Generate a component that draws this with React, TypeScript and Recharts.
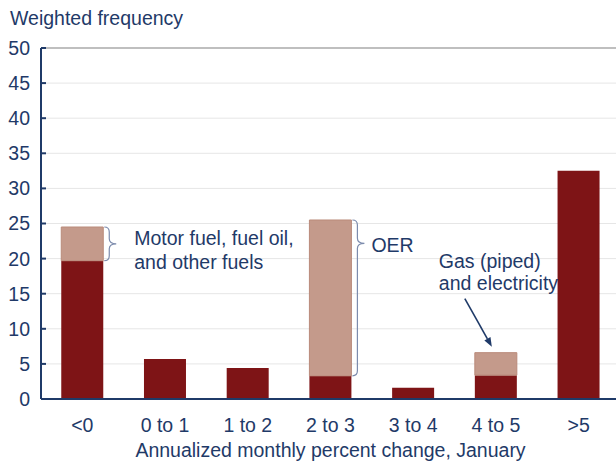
import { BarChart, Bar, XAxis, YAxis, CartesianGrid, ReferenceLine, LabelList } from "recharts";

const categories = ["<0", "0 to 1", "1 to 2", "2 to 3", "3 to 4", "4 to 5", ">5"];
const baseValues = [19.7, 5.7, 4.4, 3.3, 1.6, 3.4, 32.5];
const highlightValues = [4.8, 0, 0, 22.2, 0, 3.2, 0];
const yTicks = [0, 5, 10, 15, 20, 25, 30, 35, 40, 45, 50];
const boundaryTicks = [1, 2, 3, 4, 5, 6];

const braceNotes = [
    { category: "<0", lines: ["Motor fuel, fuel oil,", "and other fuels"], tip: 0.5, dx: 18, dy: 1.5 },
    { category: "2 to 3", lines: ["OER"], tip: 0.15, dx: 7, dy: 8.5 },
];
const arrowNotes = [{ category: "4 to 5", lines: ["Gas (piped)", "and electricity"] }];

const data = categories.map((name, i) => ({ name, base: baseValues[i], extra: highlightValues[i] }));

const NAVY = "#1F3A68";
const DARK = "#7E1416";
const LIGHT = "#C49A8B";
const FONT = "'Liberation Sans', Arial, sans-serif";
const FS = 19.5;

function renderNote(props: any) {
    const { x, y, width, height, value } = props;
    const brace = braceNotes.find((n) => n.category === value);
    if (brace && height > 0) {
        const x0 = x + width + 1;
        const xs = x0 + 5;
        const xt = xs + 7;
        const y0 = y;
        const y1 = y + height;
        const ym = y0 + brace.tip * height;
        const r = 5;
        const d = `M${x0},${y0} Q${xs},${y0} ${xs},${y0 + r} L${xs},${ym - r} Q${xs},${ym} ${xt},${ym} Q${xs},${ym} ${xs},${ym + r} L${xs},${y1 - r} Q${xs},${y1} ${x0},${y1}`;
        return (
            <g>
                <path d={d} fill="none" stroke="#7D8CAD" strokeWidth={1.2} />
                {brace.lines.map((line, i) => (
                    <text key={i} x={xt + brace.dx} y={ym + brace.dy + i * 24} fill={NAVY} fontSize={FS} fontFamily={FONT}>
                        {line}
                    </text>
                ))}
            </g>
        );
    }
    const arrow = arrowNotes.find((n) => n.category === value);
    if (arrow && height > 0) {
        const sx = x - 10;
        const sy = y - 54;
        const ex = x + 17;
        const ey = y - 6;
        const len = Math.hypot(ex - sx, ey - sy);
        const ux = (ex - sx) / len;
        const uy = (ey - sy) / len;
        const hl = 9;
        const hw = 3.5;
        const bx = ex - ux * hl;
        const by = ey - uy * hl;
        const head = `${ex},${ey} ${bx - uy * hw},${by + ux * hw} ${bx + uy * hw},${by - ux * hw}`;
        return (
            <g>
                <line x1={sx} y1={sy} x2={bx} y2={by} stroke={NAVY} strokeWidth={1.6} />
                <polygon points={head} fill={NAVY} />
                {arrow.lines.map((line, i) => (
                    <text key={i} x={x - 36} y={y - 85 + i * 22} fill={NAVY} fontSize={FS} fontFamily={FONT}>
                        {line}
                    </text>
                ))}
            </g>
        );
    }
    return null;
}

export default function App() {
    return (
        <div style={{ position: "absolute", left: 0, top: 0, width: 616, height: 462, overflow: "hidden", background: "#fff", fontFamily: FONT }}>
            <div style={{ position: "absolute", left: 10, top: 7, fontSize: FS, color: NAVY, lineHeight: "normal" }}>
                Weighted frequency
            </div>
            <BarChart
                width={630}
                height={462}
                data={data}
                margin={{ top: 48, right: 10, left: 0, bottom: 0 }}
                barCategoryGap="24.5%"
            >
                <CartesianGrid vertical={false} stroke="#E6E6E6" xAxisId="cat" />
                <XAxis
                    xAxisId="b"
                    type="number"
                    domain={[0, 7]}
                    ticks={boundaryTicks}
                    tickSize={-6}
                    tickFormatter={() => ""}
                    axisLine={false}
                    tickLine={{ stroke: NAVY, strokeWidth: 2 }}
                    height={0}
                    allowDataOverflow
                />
                <XAxis
                    xAxisId="cat"
                    dataKey="name"
                    tickLine={false}
                    axisLine={{ stroke: NAVY, strokeWidth: 2 }}
                    tick={{ fill: NAVY, fontSize: FS }}
                    tickMargin={13}
                    height={63}
                    interval={0}
                    label={{ value: "Annualized monthly percent change, January", position: "insideBottom", offset: 5.5, fill: NAVY, fontSize: FS }}
                />
                <YAxis
                    domain={[0, 50]}
                    ticks={yTicks}
                    interval={0}
                    width={41}
                    tickSize={-5}
                    tickMargin={16}
                    axisLine={{ stroke: NAVY, strokeWidth: 2 }}
                    tickLine={{ stroke: NAVY, strokeWidth: 2 }}
                    tick={{ fill: NAVY, fontSize: FS }}
                />
                <ReferenceLine y={50} xAxisId="cat" stroke="#BFBFBF" strokeWidth={2} />
                <Bar dataKey="base" stackId="a" xAxisId="cat" fill={DARK} isAnimationActive={false} />
                <Bar dataKey="extra" stackId="a" xAxisId="cat" fill={LIGHT} stroke="#B98A7A" strokeWidth={1} isAnimationActive={false}>
                    <LabelList dataKey="name" content={renderNote} />
                </Bar>
            </BarChart>
        </div>
    );
}
